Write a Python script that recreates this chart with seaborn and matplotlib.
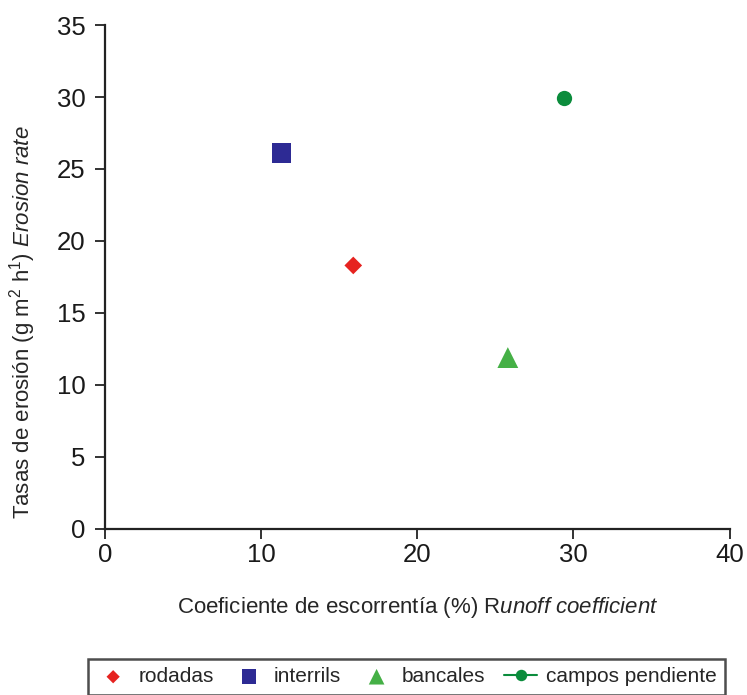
import pandas as pd
import matplotlib
matplotlib.use("Agg")
import matplotlib.pyplot as plt
import seaborn as sns

# values
series = ["rodadas", "interrils", "bancales", "campos pendiente"]
runoff = [15.9, 11.3, 25.8, 29.4]
erosion = [18.3, 26.1, 11.9, 29.9]

colors = ["#e62320", "#2d2a94", "#45b046", "#0b8c3c"]
markers = ["D", "s", "^", "o"]
sizes = [9, 14, 15, 11]

sns.set_style("ticks")
plt.rcParams["font.family"] = ["Liberation Sans", "DejaVu Sans"]
plt.rcParams["mathtext.fontset"] = "custom"
plt.rcParams["mathtext.rm"] = "Liberation Sans"
plt.rcParams["mathtext.it"] = "Liberation Sans:italic"

df = pd.DataFrame({"serie": series, "runoff": runoff, "erosion": erosion})

fig = plt.figure(figsize=(7.47, 6.95), dpi=100)
ax = fig.add_axes([0.1406, 0.239, 0.836, 0.725])

for i, name in enumerate(series):
    sub = df[df["serie"] == name]
    if name == "campos pendiente":
        sns.lineplot(data=sub, x="runoff", y="erosion", color=colors[i], marker=markers[i],
                     markersize=sizes[i], markeredgewidth=0, linewidth=1.5, ax=ax, label=name)
    else:
        sns.scatterplot(data=sub, x="runoff", y="erosion", color=colors[i], marker=markers[i],
                        s=sizes[i] ** 2, edgecolor="none", linewidth=0, ax=ax, label=name)

ax.set_xlim(0, 40)
ax.set_ylim(0, 35)
ax.set_xticks([0, 10, 20, 30, 40])
ax.set_yticks(range(0, 36, 5))
ax.tick_params(axis="both", labelsize=18.5, length=7, width=1.3, color="#222222",
               labelcolor="#1a1a1a", direction="out")
ax.tick_params(axis="x", pad=3)
ax.tick_params(axis="y", pad=7)
for s in ["left", "bottom"]:
    ax.spines[s].set_linewidth(1.6)
    ax.spines[s].set_color("#222222")
sns.despine(ax=ax)

ax.set_xlabel(r"Coeficiente de escorrentía (%) R$\it{unoff\ coefficient}$", fontsize=16, labelpad=20)
ax.set_ylabel(r"Tasas de erosión (g m$^{2}$ h$^{1}$) $\it{Erosion\ rate}$", fontsize=16)
ax.yaxis.set_label_coords(-0.107, 0.41)

h, l = ax.get_legend_handles_labels()
ax.get_legend().remove()
leg = fig.legend(h, l, loc="upper left", bbox_to_anchor=(0.118, 0.052), ncol=4, fontsize=15,
                 frameon=True, fancybox=False, edgecolor="#222222", handlelength=1.6,
                 handletextpad=0.4, columnspacing=0.9, borderpad=0.4, borderaxespad=0,
                 markerscale=0.75)
leg.get_frame().set_linewidth(1.8)

fig.savefig("out.png", dpi=100, facecolor="white")
